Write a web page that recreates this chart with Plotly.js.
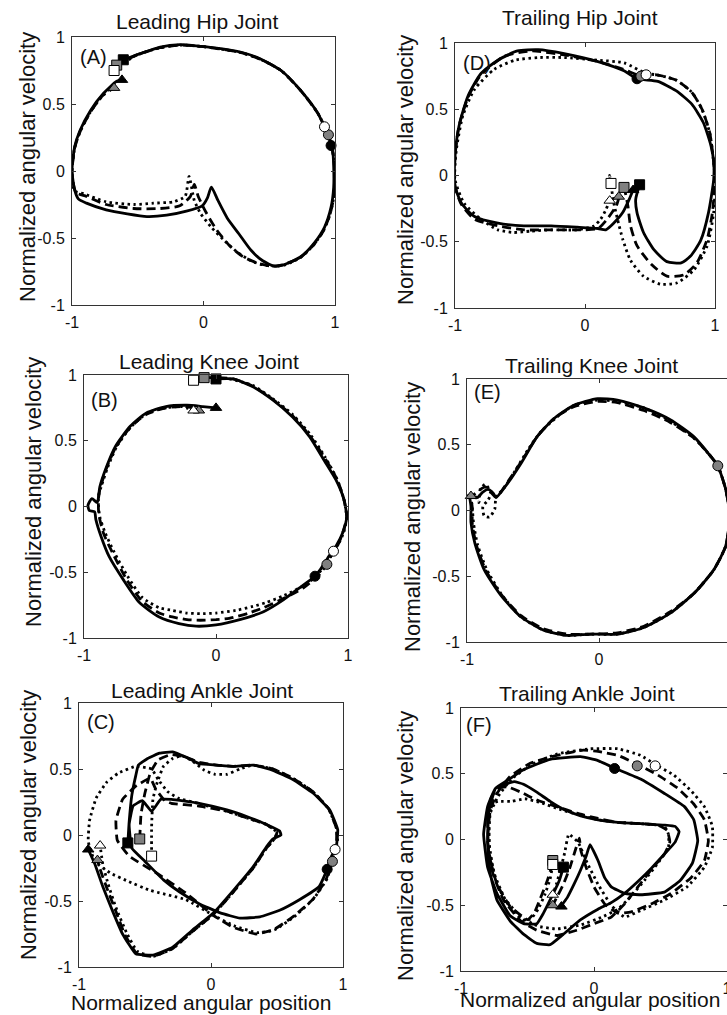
<!DOCTYPE html>
<html><head><meta charset="utf-8">
<script src="https://cdn.plot.ly/plotly-3.0.1.min.js"></script>
<style>html,body{margin:0;padding:0;overflow:hidden;background:#fff;}#plot{width:745px;height:1015px;}</style>
</head><body><div id="plot"></div>
<script>
// ---------------- DATA ----------------
// Panel A: Leading Hip Joint
const A_solid_x = [-0.61,-0.48,-0.33,-0.18,-0.02,0.13,0.28,0.43,0.59,0.74,0.87,0.94,0.98,0.99,0.99,0.97,0.92,0.84,0.74,0.61,0.54,0.45,0.36,0.27,0.18,0.11,0.06,0.03,-0.01,-0.13,-0.28,-0.43,-0.58,-0.74,-0.89,-0.95,-0.98,-1.0,-0.98,-0.94,-0.86,-0.76,-0.66,-0.62];
const A_solid_y = [0.83,0.876,0.925,0.943,0.93,0.913,0.888,0.838,0.75,0.60,0.43,0.28,0.18,0.03,-0.12,-0.27,-0.42,-0.54,-0.64,-0.70,-0.71,-0.67,-0.59,-0.47,-0.35,-0.22,-0.12,-0.2,-0.26,-0.30,-0.33,-0.34,-0.32,-0.29,-0.24,-0.21,-0.14,0.0,0.18,0.30,0.45,0.58,0.67,0.68];
const A_dash_x = [-0.66,-0.50,-0.33,-0.18,-0.02,0.13,0.28,0.43,0.59,0.74,0.87,0.95,0.99,1.0,0.99,0.96,0.91,0.83,0.73,0.60,0.52,0.42,0.30,0.20,0.10,0.02,-0.04,-0.07,-0.10,-0.18,-0.33,-0.53,-0.74,-0.89,-0.97,-1.0,-0.98,-0.94,-0.86,-0.77,-0.68];
const A_dash_y = [0.79,0.87,0.92,0.94,0.93,0.91,0.885,0.835,0.75,0.60,0.43,0.27,0.10,-0.05,-0.2,-0.33,-0.45,-0.56,-0.65,-0.70,-0.71,-0.69,-0.64,-0.56,-0.44,-0.31,-0.19,-0.10,-0.19,-0.26,-0.28,-0.28,-0.25,-0.19,-0.16,-0.02,0.17,0.29,0.44,0.56,0.62];
const A_dot_x = [-0.68,-0.52,-0.33,-0.18,-0.02,0.13,0.28,0.43,0.59,0.74,0.87,0.95,0.99,1.0,0.99,0.96,0.91,0.83,0.73,0.62,0.55,0.45,0.36,0.25,0.15,0.06,-0.02,-0.07,-0.11,-0.14,-0.23,-0.38,-0.53,-0.74,-0.91,-0.98,-1.0,-0.98,-0.94,-0.86,-0.77,-0.69];
const A_dot_y = [0.75,0.86,0.92,0.94,0.93,0.91,0.885,0.835,0.75,0.60,0.43,0.27,0.10,-0.05,-0.2,-0.33,-0.45,-0.56,-0.65,-0.70,-0.71,-0.70,-0.67,-0.60,-0.51,-0.42,-0.32,-0.22,-0.04,-0.19,-0.23,-0.24,-0.25,-0.23,-0.17,-0.15,0.0,0.17,0.29,0.44,0.56,0.64];
const A_sq_x = [-0.61,-0.66,-0.68], A_sq_y = [0.83,0.79,0.75], A_sq_c = ['#000','#808080','#fff'];
const A_tri_x = [-0.62,-0.68], A_tri_y = [0.68,0.62], A_tri_c = ['#000','#808080'];
const A_ci_x = [0.97,0.95,0.92], A_ci_y = [0.19,0.27,0.33], A_ci_c = ['#000','#808080','#fff'];

// Panel B: Leading Knee Joint
const B_solid_x = [0.0,0.13,0.28,0.43,0.58,0.71,0.82,0.91,0.97,0.99,0.96,0.91,0.86,0.79,0.75,0.63,0.51,0.36,0.18,0.0,-0.15,-0.28,-0.43,-0.58,-0.70,-0.81,-0.87,-0.91,-0.92,-0.96,-0.97,-0.94,-0.90,-0.88,-0.83,-0.76,-0.65,-0.53,-0.38,-0.22,-0.10,0.0];
const B_solid_y = [0.97,0.97,0.91,0.81,0.68,0.53,0.35,0.20,0.05,-0.08,-0.20,-0.30,-0.37,-0.48,-0.53,-0.62,-0.71,-0.80,-0.86,-0.90,-0.91,-0.89,-0.84,-0.73,-0.56,-0.38,-0.23,-0.10,-0.04,-0.03,0.01,0.06,0.03,0.15,0.30,0.46,0.61,0.71,0.76,0.77,0.76,0.75];
const B_dash_x = [-0.09,0.0,0.13,0.28,0.43,0.58,0.71,0.83,0.92,0.97,0.99,0.96,0.92,0.87,0.84,0.78,0.66,0.51,0.36,0.25,0.10,0.0,-0.12,-0.22,-0.33,-0.43,-0.56,-0.68,-0.78,-0.85,-0.88,-0.89,-0.89,-0.88,-0.83,-0.76,-0.65,-0.53,-0.38,-0.24,-0.13];
const B_dash_y = [0.98,0.98,0.97,0.915,0.815,0.69,0.54,0.36,0.20,0.05,-0.08,-0.20,-0.30,-0.38,-0.44,-0.52,-0.62,-0.70,-0.77,-0.81,-0.85,-0.86,-0.865,-0.86,-0.84,-0.81,-0.72,-0.55,-0.36,-0.21,-0.10,-0.03,0.06,0.13,0.29,0.45,0.60,0.70,0.75,0.76,0.74];
const B_dot_x = [-0.17,-0.05,0.10,0.28,0.43,0.58,0.72,0.83,0.92,0.97,0.99,0.97,0.93,0.89,0.82,0.70,0.51,0.38,0.28,0.15,0.0,-0.12,-0.22,-0.33,-0.43,-0.56,-0.67,-0.77,-0.84,-0.88,-0.89,-0.89,-0.87,-0.82,-0.75,-0.64,-0.52,-0.38,-0.26,-0.17];
const B_dot_y = [0.96,0.975,0.97,0.92,0.82,0.70,0.54,0.37,0.20,0.05,-0.08,-0.19,-0.28,-0.34,-0.46,-0.58,-0.68,-0.73,-0.76,-0.79,-0.81,-0.815,-0.81,-0.79,-0.77,-0.69,-0.53,-0.35,-0.20,-0.08,0.0,0.08,0.15,0.30,0.46,0.61,0.71,0.75,0.76,0.73];
const B_sq_x = [0.0,-0.09,-0.17], B_sq_y = [0.97,0.98,0.96], B_sq_c = ['#000','#808080','#fff'];
const B_tri_x = [0.0,-0.13,-0.17], B_tri_y = [0.75,0.73,0.73], B_tri_c = ['#000','#808080','#fff'];
const B_ci_x = [0.75,0.84,0.89], B_ci_y = [-0.53,-0.44,-0.34], B_ci_c = ['#000','#808080','#fff'];

// Panel C: Leading Ankle Joint
const C_solid_x = [-0.63,-0.62,-0.60,-0.57,-0.55,-0.48,-0.39,-0.29,-0.19,-0.09,0.04,0.17,0.32,0.47,0.62,0.77,0.90,0.96,0.95,0.90,0.88,0.82,0.67,0.52,0.37,0.22,0.07,-0.09,-0.24,-0.36,-0.50,-0.60,-0.62,-0.59,-0.52,-0.45,-0.38,-0.30,-0.09,0.12,0.27,0.42,0.52,0.53,0.47,0.42,0.32,0.17,0.02,-0.14,-0.29,-0.44,-0.57,-0.67,-0.74,-0.82,-0.88,-0.93];
const C_solid_y = [-0.06,0.10,0.30,0.45,0.53,0.58,0.62,0.63,0.59,0.54,0.53,0.52,0.53,0.49,0.42,0.32,0.19,0.04,-0.08,-0.19,-0.26,-0.39,-0.49,-0.57,-0.62,-0.63,-0.59,-0.52,-0.43,-0.34,-0.20,-0.10,0.08,0.22,0.26,0.18,0.27,0.27,0.24,0.19,0.14,0.08,0.03,0.0,-0.03,-0.09,-0.24,-0.42,-0.59,-0.72,-0.85,-0.91,-0.90,-0.75,-0.59,-0.39,-0.22,-0.11];
const C_dash_x = [-0.54,-0.53,-0.50,-0.46,-0.40,-0.30,-0.19,-0.09,0.04,0.17,0.32,0.47,0.62,0.77,0.89,0.95,0.95,0.93,0.92,0.87,0.77,0.62,0.47,0.34,0.17,0.02,-0.19,-0.41,-0.62,-0.71,-0.72,-0.67,-0.57,-0.46,-0.42,-0.35,-0.30,-0.10,0.12,0.27,0.42,0.50,0.48,0.42,0.32,0.17,0.02,-0.14,-0.29,-0.44,-0.56,-0.65,-0.72,-0.79,-0.84,-0.86];
const C_dash_y = [-0.03,0.16,0.32,0.47,0.57,0.61,0.59,0.55,0.53,0.52,0.53,0.50,0.43,0.33,0.20,0.05,-0.08,-0.16,-0.20,-0.34,-0.49,-0.62,-0.72,-0.75,-0.70,-0.61,-0.44,-0.29,-0.16,-0.04,0.11,0.27,0.37,0.43,0.35,0.26,0.24,0.22,0.18,0.13,0.08,0.02,-0.03,-0.10,-0.25,-0.43,-0.60,-0.73,-0.86,-0.92,-0.90,-0.76,-0.58,-0.40,-0.26,-0.19];
const C_dot_x = [-0.45,-0.45,-0.44,-0.41,-0.36,-0.29,-0.22,-0.14,-0.05,0.03,0.12,0.22,0.32,0.47,0.62,0.77,0.89,0.95,0.96,0.94,0.88,0.78,0.63,0.48,0.35,0.18,0.02,-0.19,-0.46,-0.63,-0.76,-0.88,-0.93,-0.92,-0.87,-0.79,-0.70,-0.57,-0.45,-0.40,-0.33,-0.25,-0.10,0.12,0.27,0.42,0.50,0.48,0.42,0.32,0.17,0.02,-0.14,-0.29,-0.44,-0.56,-0.64,-0.72,-0.78,-0.82,-0.84];
const C_dot_y = [-0.16,0.06,0.27,0.39,0.52,0.58,0.60,0.56,0.49,0.46,0.46,0.50,0.53,0.50,0.43,0.33,0.20,0.05,-0.06,-0.11,-0.33,-0.48,-0.62,-0.72,-0.74,-0.69,-0.61,-0.49,-0.42,-0.35,-0.29,-0.20,-0.05,0.11,0.28,0.40,0.47,0.52,0.50,0.42,0.33,0.28,0.24,0.18,0.13,0.08,0.02,-0.03,-0.10,-0.25,-0.43,-0.60,-0.73,-0.86,-0.92,-0.88,-0.74,-0.55,-0.37,-0.22,-0.08];
const C_sq_x = [-0.63,-0.54,-0.45], C_sq_y = [-0.06,-0.03,-0.16], C_sq_c = ['#000','#808080','#fff'];
const C_tri_x = [-0.93,-0.86,-0.84], C_tri_y = [-0.11,-0.19,-0.08], C_tri_c = ['#000','#808080','#fff'];
const C_ci_x = [0.88,0.92,0.94], C_ci_y = [-0.26,-0.20,-0.11], C_ci_c = ['#000','#808080','#fff'];

// Panel D: Trailing Hip Joint
const D_solid_x = [0.42,0.39,0.40,0.45,0.53,0.63,0.74,0.81,0.89,0.95,0.99,0.99,0.97,0.91,0.82,0.70,0.56,0.40,0.30,0.10,-0.16,-0.36,-0.52,-0.67,-0.80,-0.90,-0.97,-1.0,-1.0,-0.95,-0.85,-0.67,-0.47,-0.26,-0.06,0.10,0.16,0.22,0.29,0.34,0.37];
const D_solid_y = [-0.07,-0.18,-0.28,-0.43,-0.56,-0.65,-0.66,-0.61,-0.49,-0.28,-0.03,0.10,0.22,0.40,0.54,0.64,0.71,0.73,0.79,0.86,0.92,0.95,0.94,0.87,0.77,0.60,0.37,0.14,-0.08,-0.21,-0.31,-0.36,-0.38,-0.38,-0.39,-0.40,-0.41,-0.36,-0.28,-0.18,-0.11];
const D_dash_x = [0.30,0.33,0.35,0.40,0.51,0.63,0.76,0.86,0.94,0.98,1.0,0.99,0.96,0.90,0.82,0.70,0.55,0.43,0.30,0.10,-0.16,-0.41,-0.62,-0.80,-0.90,-0.97,-1.0,-1.0,-0.95,-0.85,-0.67,-0.47,-0.26,-0.01,0.10,0.17,0.24,0.26];
const D_dash_y = [-0.08,-0.23,-0.38,-0.53,-0.67,-0.76,-0.75,-0.66,-0.48,-0.28,-0.03,0.10,0.32,0.50,0.63,0.72,0.76,0.75,0.80,0.86,0.91,0.94,0.90,0.76,0.59,0.37,0.14,-0.08,-0.22,-0.33,-0.38,-0.41,-0.41,-0.41,-0.40,-0.33,-0.23,-0.17];
const D_dot_x = [0.20,0.19,0.22,0.25,0.29,0.35,0.45,0.58,0.71,0.84,0.94,0.99,1.0,0.99,0.96,0.90,0.82,0.70,0.55,0.47,0.30,0.10,-0.16,-0.36,-0.54,-0.70,-0.85,-0.94,-0.99,-1.0,-0.93,-0.80,-0.67,-0.55,-0.42,-0.26,-0.06,0.07,0.12,0.16,0.19];
const D_dot_y = [-0.06,0.0,-0.20,-0.33,-0.48,-0.64,-0.76,-0.82,-0.81,-0.71,-0.53,-0.28,-0.03,0.10,0.32,0.50,0.63,0.72,0.76,0.77,0.85,0.87,0.89,0.89,0.87,0.80,0.65,0.45,0.19,-0.03,-0.21,-0.33,-0.41,-0.43,-0.42,-0.41,-0.41,-0.38,-0.33,-0.26,-0.19];
const D_sq_x = [0.42,0.30,0.20], D_sq_y = [-0.07,-0.09,-0.06], D_sq_c = ['#000','#808080','#fff'];
const D_tri_x = [0.37,0.26,0.19], D_tri_y = [-0.11,-0.16,-0.19], D_tri_c = ['#000','#808080','#fff'];
const D_ci_x = [0.40,0.43,0.47], D_ci_y = [0.73,0.75,0.76], D_ci_c = ['#000','#808080','#fff'];

// Panel E: Trailing Knee Joint
const E_solid_x = [-1.0,-0.96,-0.92,-0.88,-0.84,-0.80,-0.78,-0.69,-0.59,-0.47,-0.34,-0.19,-0.01,0.14,0.34,0.54,0.72,0.84,0.90,0.96,0.99,0.96,0.87,0.72,0.54,0.34,0.14,-0.06,-0.24,-0.42,-0.59,-0.74,-0.87,-0.94,-0.97,-0.97,-0.98];
const E_solid_y = [0.11,0.11,0.10,0.14,0.16,0.13,0.10,0.21,0.36,0.56,0.70,0.80,0.85,0.84,0.78,0.69,0.56,0.42,0.34,0.16,-0.04,-0.27,-0.45,-0.63,-0.78,-0.89,-0.94,-0.94,-0.95,-0.91,-0.81,-0.65,-0.45,-0.25,-0.09,0.03,0.10];
const E_dash_x = [-1.0,-0.95,-0.90,-0.86,-0.82,-0.78,-0.69,-0.59,-0.47,-0.34,-0.19,-0.01,0.14,0.34,0.54,0.72,0.84,0.90,0.96,0.99,0.96,0.87,0.72,0.54,0.34,0.14,-0.06,-0.24,-0.42,-0.59,-0.74,-0.86,-0.93,-0.96,-0.96,-0.97];
const E_dash_y = [0.11,0.12,0.16,0.18,0.14,0.10,0.22,0.37,0.56,0.70,0.79,0.83,0.82,0.76,0.67,0.55,0.42,0.34,0.16,-0.04,-0.27,-0.45,-0.63,-0.77,-0.88,-0.93,-0.94,-0.94,-0.90,-0.80,-0.64,-0.45,-0.26,-0.10,0.02,0.10];
const E_dot_x = [-0.98,-0.93,-0.91,-0.90,-0.86,-0.82,-0.84,-0.88,-0.87,-0.83,-0.79,-0.78,-0.72,-0.63,-0.54,-0.44,-0.32,-0.19,-0.01,0.14,0.34,0.54,0.72,0.84,0.90,0.96,0.99,0.96,0.87,0.72,0.54,0.34,0.14,-0.06,-0.24,-0.42,-0.59,-0.73,-0.85,-0.92,-0.95,-0.96,-0.97];
const E_dot_y = [0.11,0.10,0.06,0.16,0.20,0.13,0.08,0.03,-0.04,-0.05,0.01,0.10,0.17,0.31,0.46,0.60,0.71,0.80,0.84,0.83,0.78,0.68,0.55,0.42,0.34,0.16,-0.04,-0.27,-0.45,-0.63,-0.78,-0.89,-0.94,-0.94,-0.95,-0.91,-0.81,-0.65,-0.45,-0.26,-0.10,0.02,0.10];
const E_sq_x = [-1.01], E_sq_y = [0.11], E_sq_c = ['#808080'];
const E_tri_x = [-0.97], E_tri_y = [0.11], E_tri_c = ['#808080'];
const E_ci_x = [0.90], E_ci_y = [0.34], E_ci_c = ['#808080'];

// Panel F: Trailing Ankle Joint
const F_solid_x = [-0.23,-0.26,-0.33,-0.38,-0.43,-0.53,-0.63,-0.73,-0.80,-0.83,-0.80,-0.74,-0.60,-0.53,-0.43,-0.33,-0.23,-0.10,0.03,0.18,0.35,0.53,0.61,0.64,0.61,0.53,0.43,0.33,0.23,0.13,0.03,-0.10,-0.23,-0.33,-0.43,-0.53,-0.63,-0.73,-0.78,-0.80,-0.79,-0.74,-0.65,-0.53,-0.33,-0.10,0.03,0.16,0.35,0.53,0.68,0.75,0.78,0.74,0.65,0.53,0.35,0.23,0.13,0.08,0.03,-0.03,-0.06,-0.10,-0.15,-0.20,-0.25];
const F_solid_y = [-0.21,-0.31,-0.46,-0.56,-0.64,-0.64,-0.58,-0.41,-0.21,0.04,0.25,0.39,0.44,0.42,0.36,0.29,0.23,0.18,0.15,0.13,0.12,0.11,0.10,0.06,-0.02,-0.11,-0.22,-0.32,-0.41,-0.48,-0.53,-0.61,-0.72,-0.80,-0.79,-0.72,-0.62,-0.46,-0.26,-0.01,0.22,0.39,0.45,0.53,0.61,0.63,0.60,0.54,0.46,0.35,0.25,0.15,-0.01,-0.18,-0.31,-0.40,-0.42,-0.41,-0.36,-0.29,-0.16,-0.04,-0.13,-0.23,-0.34,-0.44,-0.51];
const F_dash_x = [-0.31,-0.35,-0.40,-0.45,-0.50,-0.63,-0.73,-0.79,-0.80,-0.78,-0.73,-0.65,-0.55,-0.43,-0.28,-0.13,0.03,0.18,0.35,0.48,0.55,0.57,0.53,0.43,0.33,0.23,0.13,0.0,-0.13,-0.28,-0.43,-0.55,-0.68,-0.76,-0.80,-0.78,-0.73,-0.63,-0.48,-0.28,-0.08,0.03,0.18,0.33,0.48,0.63,0.75,0.83,0.86,0.83,0.73,0.58,0.43,0.28,0.18,0.08,0.0,-0.06,-0.10,-0.11,-0.14,-0.18,-0.23,-0.28,-0.31];
const F_dash_y = [-0.18,-0.31,-0.44,-0.56,-0.61,-0.51,-0.34,-0.11,0.15,0.30,0.39,0.40,0.36,0.30,0.25,0.20,0.16,0.13,0.12,0.11,0.07,-0.02,-0.11,-0.23,-0.36,-0.49,-0.59,-0.64,-0.69,-0.73,-0.69,-0.62,-0.46,-0.26,-0.01,0.22,0.35,0.48,0.58,0.64,0.68,0.67,0.64,0.57,0.49,0.39,0.27,0.15,-0.01,-0.16,-0.29,-0.41,-0.49,-0.55,-0.56,-0.49,-0.36,-0.21,-0.08,0.01,-0.08,-0.21,-0.34,-0.44,-0.50];
const F_dot_x = [-0.31,-0.33,-0.37,-0.42,-0.47,-0.52,-0.63,-0.72,-0.78,-0.79,-0.77,-0.72,-0.62,-0.52,-0.40,-0.26,-0.12,0.03,0.18,0.35,0.48,0.53,0.56,0.56,0.48,0.38,0.28,0.18,0.06,-0.10,-0.28,-0.42,-0.55,-0.67,-0.75,-0.79,-0.78,-0.72,-0.62,-0.47,-0.28,-0.03,0.18,0.35,0.46,0.60,0.73,0.83,0.89,0.89,0.83,0.70,0.53,0.35,0.23,0.13,0.03,-0.05,-0.12,-0.19,-0.22,-0.25,-0.28,-0.31];
const F_dot_y = [-0.19,-0.30,-0.42,-0.53,-0.60,-0.62,-0.52,-0.36,-0.13,0.12,0.27,0.29,0.29,0.31,0.28,0.23,0.19,0.15,0.13,0.12,0.11,0.10,0.04,-0.06,-0.18,-0.31,-0.43,-0.53,-0.59,-0.65,-0.68,-0.66,-0.59,-0.45,-0.26,-0.02,0.20,0.33,0.46,0.57,0.65,0.69,0.69,0.64,0.57,0.49,0.37,0.25,0.10,-0.06,-0.21,-0.36,-0.46,-0.54,-0.59,-0.50,-0.34,-0.18,-0.02,0.04,-0.10,-0.22,-0.33,-0.42];
const F_sq_x = [-0.23,-0.31,-0.31], F_sq_y = [-0.21,-0.16,-0.19], F_sq_c = ['#000','#808080','#fff'];
const F_tri_x = [-0.245,-0.31,-0.31], F_tri_y = [-0.51,-0.50,-0.42], F_tri_c = ['#000','#808080','#fff'];
const F_ci_x = [0.155,0.325,0.46], F_ci_y = [0.54,0.56,0.56], F_ci_c = ['#000','#808080','#fff'];

const xTickVals = [-1,0,1], xTickText = ['-1','0','1'];
const yTickVals = [-1,-0.5,0,0.5,1], yTickText = ['-1','-0.5','0','0.5','1'];
const titles = ['Leading Hip Joint','Leading Knee Joint','Leading Ankle Joint','Trailing Hip Joint','Trailing Knee Joint','Trailing Ankle Joint'];
const letters = ['(A)','(B)','(C)','(D)','(E)','(F)'];
const yLabel = 'Normalized angular velocity';
const xLabel = 'Normalized angular position';

// ---------------- LAYOUT ----------------
const W = 745, H = 1015;
const FONT = 'Liberation Sans, Arial, Helvetica, sans-serif';
const boxes = [[72,335,37,305],[84,348,375,638],[79,343,703,967],[455,715,43,308],[467,731,379,642],[461,727,708,971]];
const titlePos = [[197,21],[209,361],[202,690],[580,18],[591,365],[587,693]];
const letterPos = [[78,57],[89,400],[85,722],[461,63],[472,392],[464,725]];
const yLabPos = [[27,167],[33,492],[28,825],[405,170],[412,517],[405,846]];
const xLabPos = [[201,1002],[590,999]];
const smooth = [0.6,0.6,0.35,0.6,0.6,0.35];

const data = {A:[A_solid_x,A_solid_y,A_dash_x,A_dash_y,A_dot_x,A_dot_y,A_sq_x,A_sq_y,A_sq_c,A_tri_x,A_tri_y,A_tri_c,A_ci_x,A_ci_y,A_ci_c],
  B:[B_solid_x,B_solid_y,B_dash_x,B_dash_y,B_dot_x,B_dot_y,B_sq_x,B_sq_y,B_sq_c,B_tri_x,B_tri_y,B_tri_c,B_ci_x,B_ci_y,B_ci_c],
  C:[C_solid_x,C_solid_y,C_dash_x,C_dash_y,C_dot_x,C_dot_y,C_sq_x,C_sq_y,C_sq_c,C_tri_x,C_tri_y,C_tri_c,C_ci_x,C_ci_y,C_ci_c],
  D:[D_solid_x,D_solid_y,D_dash_x,D_dash_y,D_dot_x,D_dot_y,D_sq_x,D_sq_y,D_sq_c,D_tri_x,D_tri_y,D_tri_c,D_ci_x,D_ci_y,D_ci_c],
  E:[E_solid_x,E_solid_y,E_dash_x,E_dash_y,E_dot_x,E_dot_y,E_sq_x,E_sq_y,E_sq_c,E_tri_x,E_tri_y,E_tri_c,E_ci_x,E_ci_y,E_ci_c],
  F:[F_solid_x,F_solid_y,F_dash_x,F_dash_y,F_dot_x,F_dot_y,F_sq_x,F_sq_y,F_sq_c,F_tri_x,F_tri_y,F_tri_c,F_ci_x,F_ci_y,F_ci_c]};
const order = ['A','B','C','D','E','F'];

const traces = [];
const layout = {width:W, height:H, margin:{l:0,r:0,t:0,b:0}, paper_bgcolor:'#fff', plot_bgcolor:'#fff',
  showlegend:false, font:{family:FONT, color:'#111', size:16}, annotations:[]};

order.forEach((k,i)=>{
  const n = i+1, xa = 'x'+(n>1?n:''), ya = 'y'+(n>1?n:'');
  const b = boxes[i];
  const axCommon = {range:[-1,1], showgrid:false, zeroline:false, showline:true, linecolor:'#333', linewidth:1,
    mirror:'ticks', ticks:'inside', ticklen:4, tickwidth:1, tickcolor:'#333', tickfont:{size:16, family:FONT, color:'#111'},
    fixedrange:true, ticklabelstandoff:3};
  layout['xaxis'+(n>1?n:'')] = Object.assign({}, axCommon, {domain:[b[0]/W, b[1]/W], anchor:ya, tickvals:xTickVals, ticktext:xTickText});
  layout['yaxis'+(n>1?n:'')] = Object.assign({}, axCommon, {domain:[1-b[3]/H, 1-b[2]/H], anchor:xa, tickvals:yTickVals, ticktext:yTickText});
  const d = data[k];
  const styles = [{color:'#000',width:2.8},{color:'#000',width:2.8,dash:'9px,5px'},{color:'#000',width:2.8,dash:'2.5px,3.5px'}];
  for (let s=0;s<3;s++) traces.push({x:d[2*s], y:d[2*s+1], xaxis:xa, yaxis:ya, mode:'lines', line:Object.assign({shape:'spline',smoothing:smooth[i]},styles[s]), hoverinfo:'skip'});
  const syms = ['square','triangle-up','circle'];
  for (let m=0;m<3;m++){
    traces.push({x:d[6+3*m], y:d[7+3*m], xaxis:xa, yaxis:ya, mode:'markers', cliponaxis:false, hoverinfo:'skip',
      marker:{symbol:syms[m], size:10, color:d[8+3*m], line:{color:'#000',width:1}}});
  }
  layout.annotations.push({xref:'paper',yref:'paper',x:titlePos[i][0]/W,y:1-titlePos[i][1]/H,xanchor:'center',yanchor:'middle',showarrow:false,text:titles[i],font:{size:21,family:FONT,color:'#111'}});
  layout.annotations.push({xref:'paper',yref:'paper',x:letterPos[i][0]/W,y:1-letterPos[i][1]/H,xanchor:'left',yanchor:'middle',showarrow:false,text:letters[i],font:{size:20,family:FONT,color:'#111'}});
  layout.annotations.push({xref:'paper',yref:'paper',x:yLabPos[i][0]/W,y:1-yLabPos[i][1]/H,xanchor:'center',yanchor:'middle',showarrow:false,textangle:-90,text:yLabel,font:{size:22,family:FONT,color:'#111'}});
});
xLabPos.forEach(p=>layout.annotations.push({xref:'paper',yref:'paper',x:p[0]/W,y:1-p[1]/H,xanchor:'center',yanchor:'middle',showarrow:false,text:xLabel,font:{size:21,family:FONT,color:'#111'}}));

Plotly.newPlot('plot', traces, layout, {staticPlot:true, displayModeBar:false});
</script></body></html>
